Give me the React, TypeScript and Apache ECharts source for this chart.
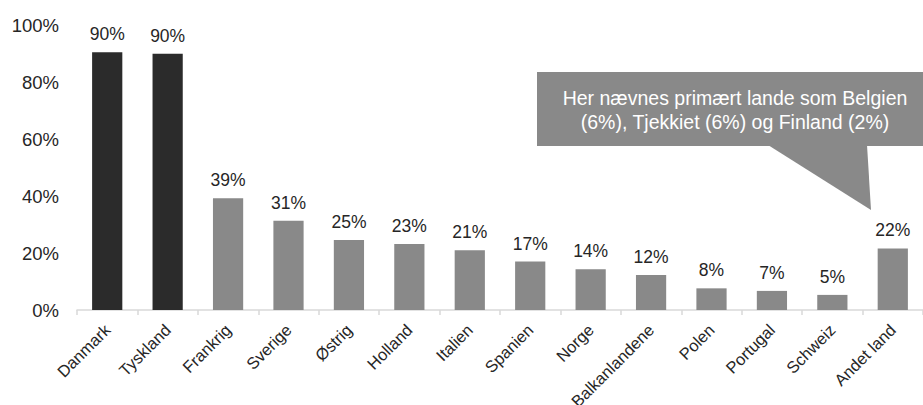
import React, { useEffect, useRef } from "react";
import * as echarts from "echarts";

const categories = ["Danmark", "Tyskland", "Frankrig", "Sverige", "Østrig", "Holland", "Italien", "Spanien", "Norge", "Balkanlandene", "Polen", "Portugal", "Schweiz", "Andet land"];
const values = [0.904, 0.899, 0.392, 0.313, 0.246, 0.232, 0.21, 0.17, 0.143, 0.123, 0.076, 0.067, 0.053, 0.216];
const highlighted = ["Danmark", "Tyskland"];
const yTicks = [0, 0.2, 0.4, 0.6, 0.8, 1.0];
const calloutLines = ["Her nævnes primært lande som Belgien", "(6%), Tjekkiet (6%) og Finland (2%)"];

const FONT = "'Liberation Sans', Arial, sans-serif";

export default function App() {
  const ref = useRef<HTMLDivElement>(null);
  useEffect(() => {
    if (!ref.current) return;
    const chart = echarts.init(ref.current, undefined, { renderer: "svg" });
    chart.setOption({
      animation: false,
      grid: { left: 77, right: 0, top: 25, bottom: 95, containLabel: false, outerBoundsMode: "none" },
      xAxis: {
        type: "category",
        data: categories,
        axisLine: { lineStyle: { color: "#d9d9d9", width: 1.5 } },
        axisTick: { show: true, length: 5, lineStyle: { color: "#d9d9d9", width: 1.5 } },
        axisLabel: {
          rotate: 45,
          interval: 0,
          color: "#262626",
          fontSize: 16.5,
          fontFamily: FONT,
          margin: 17,
        },
      },
      yAxis: {
        type: "value",
        min: yTicks[0],
        max: yTicks[yTicks.length - 1],
        interval: 0.2,
        splitLine: { show: false },
        axisLine: { show: false },
        axisTick: { show: false },
        axisLabel: {
          color: "#262626",
          fontSize: 18.5,
          fontFamily: FONT,
          margin: 18,
          formatter: (v: number) => Math.round(v * 100) + "%",
        },
      },
      series: [
        {
          type: "bar",
          barWidth: "50%",
          data: values.map((v, i) => ({
            value: v,
            itemStyle: { color: highlighted.includes(categories[i]) ? "#2b2b2b" : "#898989" },
          })),
          label: {
            show: true,
            position: "top",
            distance: 9,
            color: "#262626",
            fontSize: 17.5,
            fontFamily: FONT,
            formatter: (p: any) => Math.round(p.value * 100) + "%",
          },
        },
      ],
      graphic: [
        {
          type: "polygon",
          shape: { points: [[768, 145], [867, 145], [871, 210]] },
          style: { fill: "#898989" },
        },
        {
          type: "rect",
          shape: { x: 537, y: 72, width: 386, height: 74 },
          style: { fill: "#898989" },
        },
        {
          type: "text",
          x: 735,
          y: 110,
          style: {
            text: calloutLines.join("\n"),
            fill: "#ffffff",
            fontSize: 19.5,
            fontFamily: FONT,
            align: "center",
            verticalAlign: "middle",
            lineHeight: 24,
          },
        },
      ],
    });
    return () => chart.dispose();
  }, []);
  return <div ref={ref} style={{ width: 923, height: 405, position: "absolute", left: 0, top: 0 }} />;
}
